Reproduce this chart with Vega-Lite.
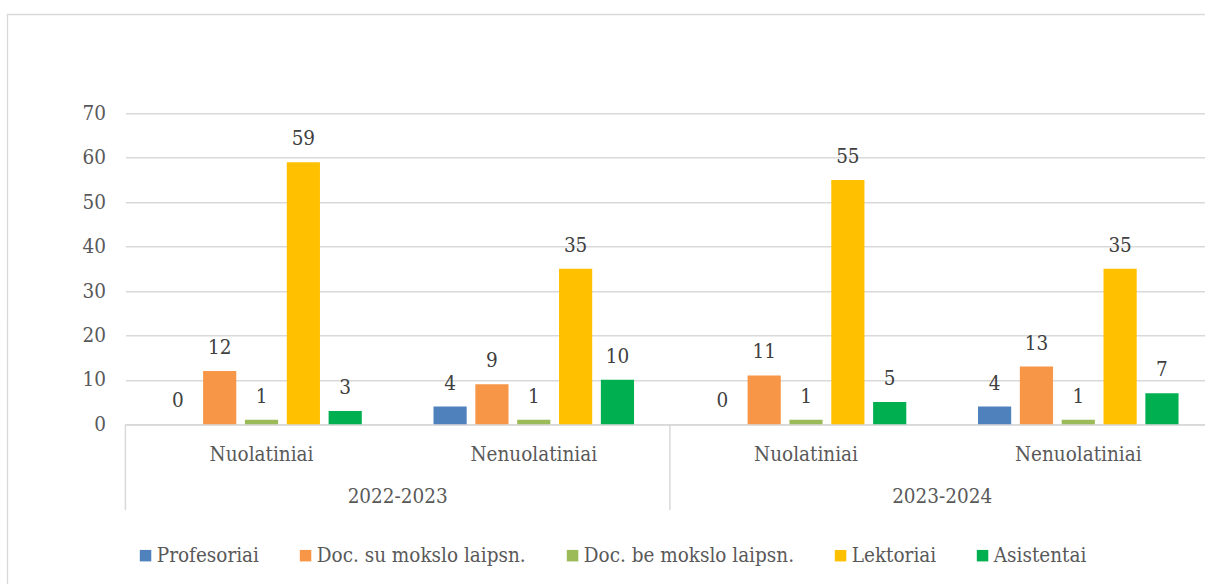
{
  "$schema": "https://vega.github.io/schema/vega-lite/v6.json",
  "width": 1202,
  "height": 574,
  "autosize": {"type": "none"},
  "padding": {"left": 7.3, "top": 14.3, "right": -4, "bottom": -4},
  "background": "white",
  "config": {
    "view": {"stroke": "#d9d9d9", "strokeWidth": 1.3},
    "font": "DejaVu Serif Condensed",
    "axis": {"labelFont": "DejaVu Serif Condensed", "labelFontSize": 20.5, "labelColor": "#595959"},
    "legend": {"labelFont": "DejaVu Serif Condensed", "labelFontSize": 20.5, "labelColor": "#595959", "labelLimit": 500}
  },
  "datasets": {
    "main": [
      {"group": "2022-2023|Nuolatiniai", "series": "Profesoriai", "value": 0},
      {"group": "2022-2023|Nuolatiniai", "series": "Doc. su mokslo laipsn.", "value": 12},
      {"group": "2022-2023|Nuolatiniai", "series": "Doc. be mokslo laipsn.", "value": 1},
      {"group": "2022-2023|Nuolatiniai", "series": "Lektoriai", "value": 59},
      {"group": "2022-2023|Nuolatiniai", "series": "Asistentai", "value": 3},
      {"group": "2022-2023|Nenuolatiniai", "series": "Profesoriai", "value": 4},
      {"group": "2022-2023|Nenuolatiniai", "series": "Doc. su mokslo laipsn.", "value": 9},
      {"group": "2022-2023|Nenuolatiniai", "series": "Doc. be mokslo laipsn.", "value": 1},
      {"group": "2022-2023|Nenuolatiniai", "series": "Lektoriai", "value": 35},
      {"group": "2022-2023|Nenuolatiniai", "series": "Asistentai", "value": 10},
      {"group": "2023-2024|Nuolatiniai", "series": "Profesoriai", "value": 0},
      {"group": "2023-2024|Nuolatiniai", "series": "Doc. su mokslo laipsn.", "value": 11},
      {"group": "2023-2024|Nuolatiniai", "series": "Doc. be mokslo laipsn.", "value": 1},
      {"group": "2023-2024|Nuolatiniai", "series": "Lektoriai", "value": 55},
      {"group": "2023-2024|Nuolatiniai", "series": "Asistentai", "value": 5},
      {"group": "2023-2024|Nenuolatiniai", "series": "Profesoriai", "value": 4},
      {"group": "2023-2024|Nenuolatiniai", "series": "Doc. su mokslo laipsn.", "value": 13},
      {"group": "2023-2024|Nenuolatiniai", "series": "Doc. be mokslo laipsn.", "value": 1},
      {"group": "2023-2024|Nenuolatiniai", "series": "Lektoriai", "value": 35},
      {"group": "2023-2024|Nenuolatiniai", "series": "Asistentai", "value": 7}
    ],
    "years": [
      {"group": "2022-2023|Nuolatiniai", "year": "2022-2023"},
      {"group": "2023-2024|Nuolatiniai", "year": "2023-2024"}
    ]
  },
  "layer": [
    {
      "data": {"name": "main"},
      "mark": {"type": "bar"},
      "encoding": {
        "x": {
          "field": "group", "type": "nominal",
          "scale": {
            "domain": ["2022-2023|Nuolatiniai", "2022-2023|Nenuolatiniai", "2023-2024|Nuolatiniai", "2023-2024|Nenuolatiniai"],
            "range": [118.1, 1207.1],
            "paddingInner": 0, "paddingOuter": 0
          },
          "axis": {
            "title": null, "ticks": false, "grid": false,
            "domainColor": "#d9d9d9", "domainWidth": 1.5, "offset": -163.7,
            "labelAngle": 0, "labelPadding": 36, "labelBaseline": "alphabetic",
            "labelExpr": "split(datum.value, '|')[1]"
          }
        },
        "xOffset": {
          "field": "series", "type": "nominal",
          "scale": {
            "domain": ["Profesoriai", "Doc. su mokslo laipsn.", "Doc. be mokslo laipsn.", "Lektoriai", "Asistentai"],
            "paddingInner": 0.207, "paddingOuter": 0.857
          }
        },
        "y": {
          "field": "value", "type": "quantitative",
          "scale": {"domain": [0, 70], "nice": false, "range": [410, 99]},
          "axis": {
            "title": null, "domain": false, "ticks": false, "offset": -118.1,
            "values": [0, 10, 20, 30, 40, 50, 60, 70],
            "labelPadding": 20, "gridColor": "#d9d9d9", "gridWidth": 1.5
          }
        },
        "color": {
          "field": "series", "type": "nominal",
          "scale": {
            "domain": ["Profesoriai", "Doc. su mokslo laipsn.", "Doc. be mokslo laipsn.", "Lektoriai", "Asistentai"],
            "range": ["#4F81BD", "#F79646", "#9BBB59", "#FFC000", "#00B050"]
          },
          "legend": {
            "title": null, "orient": "none", "legendX": 128, "legendY": 531,
            "direction": "horizontal", "symbolType": "square", "symbolSize": 132,
            "symbolStrokeWidth": 0, "columnPadding": 36, "labelOffset": 1, "padding": 0
          }
        }
      }
    },
    {
      "data": {"name": "main"},
      "mark": {"type": "text", "baseline": "alphabetic", "dy": -17, "fontSize": 20.5, "color": "#404040", "font": "DejaVu Serif Condensed"},
      "encoding": {
        "x": {"field": "group", "type": "nominal"},
        "xOffset": {"field": "series", "type": "nominal"},
        "y": {"field": "value", "type": "quantitative"},
        "text": {"field": "value", "type": "quantitative"}
      }
    },
    {
      "data": {"name": "years"},
      "mark": {"type": "rule", "color": "#d9d9d9", "strokeWidth": 1.5},
      "encoding": {
        "x": {"field": "group", "type": "nominal", "bandPosition": 0},
        "y": {"datum": 0},
        "y2": {"datum": -19.3}
      }
    },
    {
      "data": {"name": "years"},
      "mark": {"type": "text", "baseline": "alphabetic", "dy": 78.4, "fontSize": 20.5, "color": "#595959", "font": "DejaVu Serif Condensed"},
      "encoding": {
        "x": {"field": "group", "type": "nominal", "bandPosition": 1},
        "y": {"datum": 0},
        "text": {"field": "year", "type": "nominal"}
      }
    }
  ]
}
